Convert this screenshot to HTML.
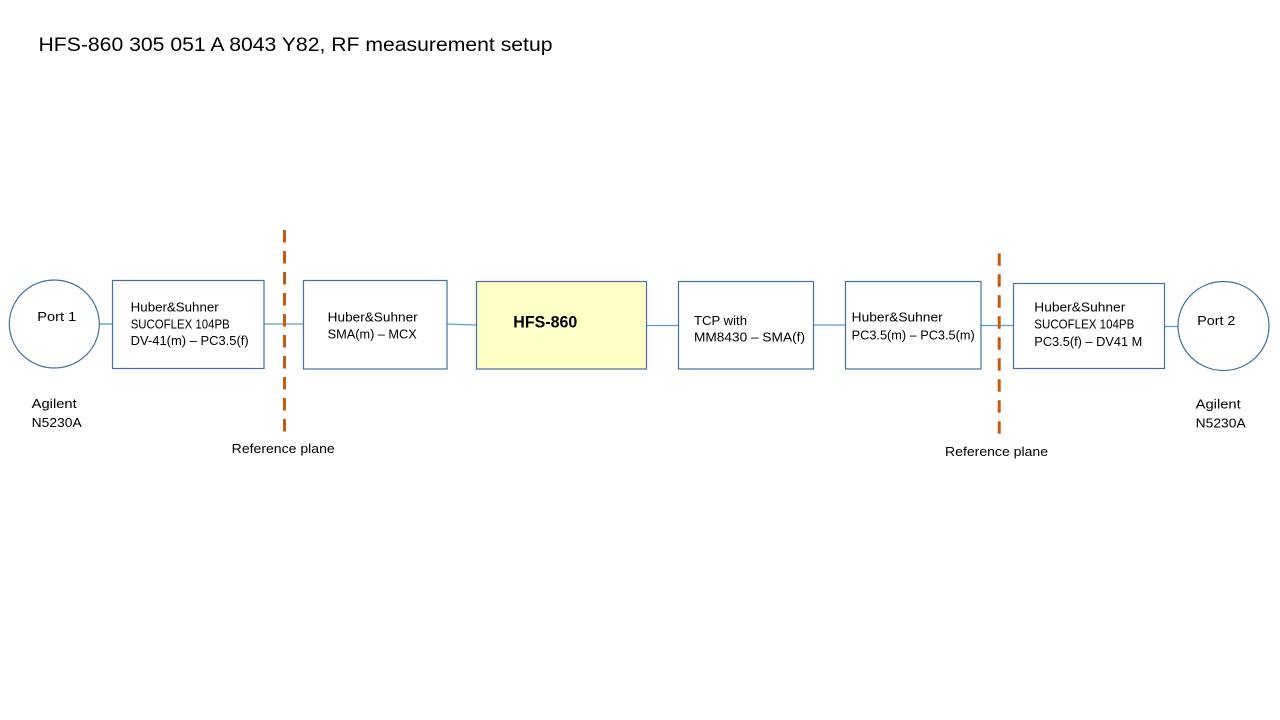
<!DOCTYPE html>
<html>
<head>
<meta charset="utf-8">
<style>
  html, body { margin: 0; padding: 0; background: #ffffff; }
  body { width: 1280px; height: 720px; overflow: hidden; }
  svg { display: block; }
  text { font-family: "Liberation Sans", Arial, sans-serif; fill: #000; }
</style>
</head>
<body>
<svg width="1280" height="720" viewBox="0 0 1280 720" xmlns="http://www.w3.org/2000/svg">
  <rect x="0" y="0" width="1280" height="720" fill="#ffffff"/>

  <!-- Title -->
  <text x="38.5" y="51" font-size="19.5" textLength="514" lengthAdjust="spacingAndGlyphs">HFS-860 305 051 A 8043 Y82, RF measurement setup</text>

  <!-- Connector lines -->
  <g stroke="#5B9BD5" stroke-width="1.3" fill="none">
    <line x1="99" y1="324" x2="112" y2="324"/>
    <line x1="264" y1="324" x2="303" y2="324"/>
    <line x1="447" y1="324" x2="476" y2="325"/>
    <line x1="647" y1="325.5" x2="678" y2="325.5"/>
    <line x1="813" y1="325" x2="845" y2="325"/>
    <line x1="981" y1="325.5" x2="1013" y2="325.5"/>
    <line x1="1164" y1="326.5" x2="1178" y2="326.5"/>
  </g>

  <!-- Circles -->
  <ellipse cx="54.3" cy="324" rx="45" ry="44" fill="#fff" stroke="#41719C" stroke-width="1.2"/>
  <ellipse cx="1223.5" cy="326" rx="45.5" ry="44.5" fill="#fff" stroke="#41719C" stroke-width="1.2"/>

  <!-- Boxes -->
  <g stroke="#41719C" stroke-width="1.2">
    <rect x="112.5" y="280.5" width="151.5" height="88" fill="#fff"/>
    <rect x="303.5" y="280.5" width="143.5" height="88.5" fill="#fff"/>
    <rect x="476.5" y="281.5" width="170" height="87.5" fill="#FFFFC8"/>
    <rect x="678.5" y="281.5" width="135" height="87.5" fill="#fff"/>
    <rect x="845.5" y="281.5" width="135.5" height="87.5" fill="#fff"/>
    <rect x="1013.5" y="283.5" width="151" height="85" fill="#fff"/>
  </g>

  <!-- Reference plane dashed lines -->
  <g stroke="#C55A11" stroke-width="3" stroke-dasharray="12.5 8.5" fill="none">
    <line x1="284.5" y1="230" x2="284.5" y2="432"/>
    <line x1="999.2" y1="253.3" x2="999.2" y2="434"/>
  </g>

  <!-- Port labels -->
  <text x="37.3" y="321" font-size="12.5" textLength="39" lengthAdjust="spacingAndGlyphs">Port 1</text>
  <text x="1197.3" y="325" font-size="12.5" textLength="38" lengthAdjust="spacingAndGlyphs">Port 2</text>

  <!-- Agilent labels -->
  <text x="31.7" y="408" font-size="12.5" textLength="45" lengthAdjust="spacingAndGlyphs">Agilent</text>
  <text x="31.7" y="427" font-size="12.5" textLength="50" lengthAdjust="spacingAndGlyphs">N5230A</text>
  <text x="1195.7" y="408.3" font-size="12.5" textLength="45" lengthAdjust="spacingAndGlyphs">Agilent</text>
  <text x="1195.7" y="427.7" font-size="12.5" textLength="50" lengthAdjust="spacingAndGlyphs">N5230A</text>

  <!-- Reference plane labels -->
  <text x="231.7" y="453" font-size="12.5" textLength="103" lengthAdjust="spacingAndGlyphs">Reference plane</text>
  <text x="945" y="456" font-size="12.5" textLength="103" lengthAdjust="spacingAndGlyphs">Reference plane</text>

  <!-- Box 1 -->
  <text x="130.7" y="311.7" font-size="12.5" textLength="88" lengthAdjust="spacingAndGlyphs">Huber&amp;Suhner</text>
  <text x="130.7" y="328.3" font-size="12.5" textLength="99" lengthAdjust="spacingAndGlyphs">SUCOFLEX 104PB</text>
  <text x="130.7" y="345" font-size="12.5" textLength="118" lengthAdjust="spacingAndGlyphs">DV-41(m) – PC3.5(f)</text>

  <!-- Box 2 -->
  <text x="327.7" y="321.7" font-size="12.5" textLength="90" lengthAdjust="spacingAndGlyphs">Huber&amp;Suhner</text>
  <text x="327.7" y="338.3" font-size="12.5" textLength="89" lengthAdjust="spacingAndGlyphs">SMA(m) – MCX</text>

  <!-- HFS-860 -->
  <text x="513.3" y="327.3" font-size="17" font-weight="bold" textLength="64" lengthAdjust="spacingAndGlyphs">HFS-860</text>

  <!-- TCP box -->
  <text x="694" y="325" font-size="12.5" textLength="53" lengthAdjust="spacingAndGlyphs">TCP with</text>
  <text x="694" y="341.7" font-size="12.5" textLength="111" lengthAdjust="spacingAndGlyphs">MM8430  – SMA(f)</text>

  <!-- Box 5 -->
  <text x="851.7" y="321.7" font-size="12.5" textLength="91" lengthAdjust="spacingAndGlyphs">Huber&amp;Suhner</text>
  <text x="851.7" y="339.3" font-size="12.5" textLength="123" lengthAdjust="spacingAndGlyphs">PC3.5(m) – PC3.5(m)</text>

  <!-- Box 6 -->
  <text x="1034.3" y="311.7" font-size="12.5" textLength="91" lengthAdjust="spacingAndGlyphs">Huber&amp;Suhner</text>
  <text x="1034.3" y="328.7" font-size="12.5" textLength="100" lengthAdjust="spacingAndGlyphs">SUCOFLEX 104PB</text>
  <text x="1034.3" y="346" font-size="12.5" textLength="108" lengthAdjust="spacingAndGlyphs">PC3.5(f) – DV41 M</text>
</svg>
</body>
</html>
